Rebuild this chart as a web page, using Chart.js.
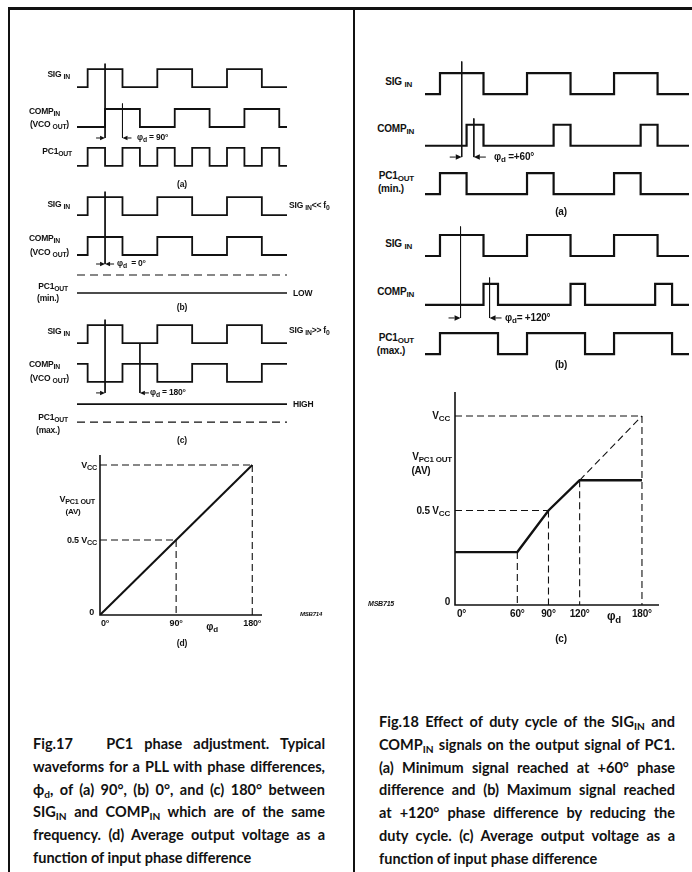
<!DOCTYPE html>
<html>
<head>
<meta charset="utf-8">
<script src="https://cdn.jsdelivr.net/npm/chart.js@4/dist/chart.umd.min.js"></script>
<style>
  html, body { margin: 0; padding: 0; background: #fff; }
  #page { position: relative; width: 692px; height: 872px; overflow: hidden; background: #fff; color: #111;
          font-family: "Liberation Sans", Arial, sans-serif; }
  .rule { position: absolute; background: #111; }
  canvas { position: absolute; }
  .lb { position: absolute; font-weight: bold; white-space: nowrap; line-height: 1; transform: translateY(-50%); letter-spacing: -0.2px; }
  .lb sub { font-size: 80%; vertical-align: baseline; position: relative; top: 0.3em; }
  .cap { position: absolute; font-family: Lato, "Open Sans", sans-serif; font-weight: 700; font-size: 14.5px; color: #111; }
  .cap div { height: 22.8px; line-height: 22.8px; text-align: justify; text-align-last: justify; white-space: nowrap; }
  .cap div.last { text-align-last: left; }
  .cap sub { font-size: 70%; vertical-align: baseline; position: relative; top: 0.3em; }
</style>
</head>
<body>
<div id="page">
  <div class="rule" style="left:8px;top:7px;width:684px;height:3px"></div>
  <div class="rule" style="left:8px;top:7px;width:2px;height:865px"></div>
  <div class="rule" style="left:353px;top:9px;width:2px;height:863px"></div>

  <canvas id="c17w"></canvas>
  <canvas id="c17d"></canvas>
  <canvas id="c18w"></canvas>
  <canvas id="c18c"></canvas>

  <div class="cap" style="left:33px;top:733px;width:292px">
    <div>Fig.17&nbsp;&nbsp; PC1 phase adjustment. Typical</div>
    <div>waveforms for a PLL with phase differences,</div>
    <div>ϕ<sub>d</sub>, of (a) 90°, (b) 0°, and (c) 180° between</div>
    <div>SIG<sub>IN</sub> and COMP<sub>IN</sub> which are of the same</div>
    <div>frequency. (d) Average output voltage as a</div>
    <div class="last">function of input phase difference</div>
  </div>
  <div class="cap" style="left:379px;top:711px;width:296px">
    <div>Fig.18 Effect of duty cycle of the SIG<sub>IN</sub> and</div>
    <div>COMP<sub>IN</sub> signals on the output signal of PC1.</div>
    <div>(a) Minimum signal reached at +60° phase</div>
    <div>difference and (b) Maximum signal reached</div>
    <div>at +120° phase difference by reducing the</div>
    <div>duty cycle. (c) Average output voltage as a</div>
    <div class="last">function of input phase difference</div>
  </div>
</div>

<script>
// ---------------- Fig.17 waveforms (edge positions in degrees of one SIG_IN period) ----------------
const f17Span     = [-55, 1030];
const f17SigEdges = [0, 180, 360, 540, 720, 900];
const f17CompA    = [90, 270, 450, 630, 810, 990];
const f17Pc1A     = [0, 90, 180, 270, 360, 450, 540, 630, 720, 810, 900, 990];
const f17CompB    = [0, 180, 360, 540, 720, 900];
const f17CompC    = [0, 180, 360, 540, 720, 900];   // starts high (180° shifted)
const f17MarkA    = [90, 180];
const f17MarkB    = [90, 90];
const f17MarkC    = [90, 270];

// Fig.17 (d) average output voltage vs phase
const f17dPhase  = [0, 180];
const f17dVout   = [0, 1];
const f17dGuides = [[90, 0.5], [180, 1]];
const f17dTicks  = [0, 90, 180];

// ---------------- Fig.18 waveforms ----------------
const f18Span     = [-62, 1030];
const f18SigEdges = [0, 180, 360, 540, 720, 900];
const f18CompA    = [110, 180, 470, 540, 830, 900];
const f18Pc1A     = [0, 110, 360, 470, 720, 830];
const f18CompB    = [180, 240, 540, 600, 890, 960];
const f18Pc1B     = [0, 240, 360, 600, 720, 960];
const f18MarkA    = [90, 140];
const f18MarkB    = [85, 205];

// Fig.18 (c) average output voltage vs phase
const f18cPhase  = [0, 60, 90, 120, 180];
const f18cVout   = [0.28, 0.28, 0.5, 0.66, 0.66];
const f18cIdeal  = [[120, 0.66], [180, 1]];
const f18cHGuides = [[90, 0.5], [180, 1]];
const f18cVGuides = [[60, 0.28], [90, 0.5], [120, 0.66], [180, 1]];
const f18cTicks  = [0, 60, 90, 120, 180];

const INK = '#111';
const PAD = 8;
const page = document.getElementById('page');

// step waveform from its edge list
function wave(edges, startHigh, span, base) {
  let lvl = startHigh ? 1 : 0;
  const pts = [{ x: span[0], y: base + lvl }];
  edges.forEach(t => {
    pts.push({ x: t, y: base + lvl });
    lvl = 1 - lvl;
    pts.push({ x: t, y: base + lvl });
  });
  pts.push({ x: span[1], y: base + lvl });
  return pts;
}

function ds(data, width, dash) {
  return { data, showLine: true, borderColor: INK, borderWidth: width, borderDash: dash || [],
           pointRadius: 0, fill: false, tension: 0, borderCapStyle: 'butt', borderJoinStyle: 'miter' };
}

function seg(x1, y1, x2, y2) { return [{ x: x1, y: y1 }, { x: x2, y: y2 }]; }

function drawArrow(ctx, from, to, py, head) {
  const dir = Math.sign(to - from);
  ctx.beginPath(); ctx.moveTo(from, py); ctx.lineTo(to - dir * head, py); ctx.stroke();
  ctx.beginPath();
  ctx.moveTo(to, py);
  ctx.lineTo(to - dir * head, py - head * 0.45);
  ctx.lineTo(to - dir * head, py + head * 0.45);
  ctx.closePath(); ctx.fill();
}

function arrowPlugin(specs, len, head) {
  return {
    id: 'phaseArrows',
    afterDatasetsDraw(chart) {
      const { ctx, scales: { x, y } } = chart;
      ctx.save();
      ctx.strokeStyle = INK; ctx.fillStyle = INK; ctx.lineWidth = 1;
      specs.forEach(s => {
        const py = y.getPixelForValue(s.y);
        const a = x.getPixelForValue(s.marks[0]);
        const b = x.getPixelForValue(s.marks[1]);
        drawArrow(ctx, a - len, a, py, head);
        drawArrow(ctx, b + len, b, py, head);
      });
      ctx.restore();
    }
  };
}

const axesPlugin = {
  id: 'axes',
  afterDatasetsDraw(chart) {
    const { ctx, chartArea: a } = chart;
    ctx.save();
    ctx.strokeStyle = INK; ctx.lineWidth = 1.6;
    ctx.beginPath();
    ctx.moveTo(a.left, a.top); ctx.lineTo(a.left, a.bottom); ctx.lineTo(a.right, a.bottom);
    ctx.stroke();
    ctx.restore();
  }
};

function plot(id, box, xr, yr, datasets, plugins) {
  const cv = document.getElementById(id);
  cv.width = box.w + 2 * PAD; cv.height = box.h + 2 * PAD;
  cv.style.left = (box.x - PAD) + 'px'; cv.style.top = (box.y - PAD) + 'px';
  const chart = new Chart(cv, {
    type: 'scatter',
    data: { datasets },
    options: {
      responsive: false, animation: false, devicePixelRatio: 1,
      layout: { padding: PAD },
      plugins: { legend: { display: false }, tooltip: { enabled: false } },
      scales: {
        x: { type: 'linear', display: false, min: xr[0], max: xr[1] },
        y: { type: 'linear', display: false, min: yr[0], max: yr[1] }
      }
    },
    plugins: plugins || []
  });
  chart.px = v => box.x - PAD + chart.scales.x.getPixelForValue(v);
  chart.py = v => box.y - PAD + chart.scales.y.getPixelForValue(v);
  return chart;
}

function lab(html, x, y, o) {
  o = o || {};
  const d = document.createElement('div');
  d.className = 'lb';
  d.innerHTML = html;
  d.style.fontSize = (o.fs || 8.5) + 'px';
  if (o.al === 'r') d.style.right = (692 - x) + 'px';
  else if (o.al === 'c') { d.style.left = x + 'px'; d.style.transform = 'translate(-50%,-50%)'; }
  else d.style.left = x + 'px';
  d.style.top = y + 'px';
  if (o.it) d.style.fontStyle = 'italic';
  page.appendChild(d);
}

// ================= Fig.17 (a)(b)(c) waveforms =================
// row baselines (low level) in amplitude units, 0 at the bottom of the block
const L = { sigA: 19.05, compA: 16.83, pc1A: 14.67, sigB: 11.94, compB: 9.72, pc1B: 7.61,
            sigC: 4.83, compC: 2.67, pc1C: 0.44, arrA: 16.22, arrB: 9.22, arrC: 2.06 };
const W17 = 1.8;
plot('c17w', { x: 77, y: 55, w: 210, h: 375 }, f17Span, [0, 20.83], [
  ds(wave(f17SigEdges, false, f17Span, L.sigA), W17),
  ds(wave(f17CompA, false, f17Span, L.compA), W17),
  ds(wave(f17Pc1A, false, f17Span, L.pc1A), W17),
  ds(wave(f17SigEdges, false, f17Span, L.sigB), W17),
  ds(wave(f17CompB, false, f17Span, L.compB), W17),
  ds(seg(f17Span[0], L.pc1B + 1, f17Span[1], L.pc1B + 1), 1.2, [8, 5]),
  ds(seg(f17Span[0], L.pc1B, f17Span[1], L.pc1B), 1.6),
  ds(wave(f17SigEdges, false, f17Span, L.sigC), W17),
  ds(wave(f17CompC, true, f17Span, L.compC), W17),
  ds(seg(f17Span[0], L.pc1C + 1, f17Span[1], L.pc1C + 1), 1.6),
  ds(seg(f17Span[0], L.pc1C, f17Span[1], L.pc1C), 1.2, [8, 5]),
  // phase reference markers
  ds(seg(f17MarkA[0], L.sigA + 1.3, f17MarkA[0], L.arrA), 1),
  ds(seg(f17MarkA[1], L.compA + 1.3, f17MarkA[1], L.arrA), 1),
  ds(seg(f17MarkB[0], L.sigB + 1.3, f17MarkB[0], L.arrB), 1),
  ds(seg(f17MarkC[0], L.sigC + 1.3, f17MarkC[0], L.arrC), 1),
  ds(seg(f17MarkC[1], L.sigC, f17MarkC[1], L.arrC), 1)
], [arrowPlugin([
  { y: L.arrA, marks: f17MarkA },
  { y: L.arrB, marks: f17MarkB },
  { y: L.arrC, marks: f17MarkC }
], 9, 5)]);

lab('SIG <sub>IN</sub>', 70, 74, { al: 'r' });
lab('COMP<sub>IN</sub>', 60, 111, { al: 'r' });
lab('(VCO <sub>OUT</sub>)', 69, 124, { al: 'r' });
lab('PC1<sub>OUT</sub>', 72, 151, { al: 'r' });
lab('(a)', 182, 184, { al: 'c' });
lab('φ<sub>d</sub> = 90°', 137, 137);

lab('SIG <sub>IN</sub>', 70, 204, { al: 'r' });
lab('SIG <sub>IN</sub>&lt;&lt; f<sub>0</sub>', 289, 205);
lab('COMP<sub>IN</sub>', 60, 238, { al: 'r' });
lab('(VCO <sub>OUT</sub>)', 69, 252, { al: 'r' });
lab('φ<sub>d</sub>&nbsp; = 0°', 117, 263);
lab('PC1<sub>OUT</sub>', 68, 286, { al: 'r' });
lab('(min.)', 48, 298, { al: 'c' });
lab('LOW', 293, 293);
lab('(b)', 182, 307, { al: 'c' });

lab('SIG <sub>IN</sub>', 70, 331, { al: 'r' });
lab('SIG <sub>IN</sub>&gt;&gt; f<sub>0</sub>', 289, 330);
lab('COMP<sub>IN</sub>', 60, 364, { al: 'r' });
lab('(VCO <sub>OUT</sub>)', 69, 378, { al: 'r' });
lab('φ<sub>d</sub> = 180°', 150, 392);
lab('HIGH', 293, 404);
lab('PC1<sub>OUT</sub>', 68, 417, { al: 'r' });
lab('(max.)', 48, 430, { al: 'c' });
lab('(c)', 182, 440, { al: 'c' });

// ================= Fig.17 (d) =================
const d17 = plot('c17d', { x: 100, y: 455, w: 162, h: 160 }, [0, 191.5], [0, 1.067], [
  ...f17dGuides.map(g => ds(seg(0, g[1], g[0], g[1]), 1.1, [7, 4])),
  ...f17dGuides.map(g => ds(seg(g[0], g[1], g[0], 0), 1.1, [7, 4])),
  ds(f17dPhase.map((p, i) => ({ x: p, y: f17dVout[i] })), 2)
], [axesPlugin]);

f17dTicks.forEach((t, i) => {
  lab(t + '°', i === 0 ? d17.px(t) + 1 : d17.px(t), d17.py(0) + 8, { fs: 9, al: i === 0 ? 'l' : 'c' });
});
lab('V<sub>CC</sub>', 97, d17.py(1), { fs: 9, al: 'r' });
lab('0.5 V<sub>CC</sub>', 97, d17.py(0.5), { fs: 9, al: 'r' });
lab('0', 94, d17.py(0) - 3, { fs: 9, al: 'r' });
lab('V<sub>PC1 OUT</sub>', 95, 499, { fs: 9, al: 'r' });
lab('(AV)', 73, 512, { fs: 8, al: 'c' });
lab('φ<sub>d</sub>', 212, 627, { fs: 10, al: 'c' });
lab('MSB714', 300, 614, { fs: 6, it: true });
lab('(d)', 182, 643, { al: 'c' });

// ================= Fig.18 (a)(b) waveforms =================
const R = { sigA: 12.9, compA: 10.44, pc1A: 8.14, sigB: 5.19, compB: 2.86, pc1B: 0.52, arrA: 9.9, arrB: 2.24 };
const W18 = 2.2;
plot('c18w', { x: 425, y: 55, w: 264, h: 310 }, f18Span, [0, 14.76], [
  ds(wave(f18SigEdges, false, f18Span, R.sigA), W18),
  ds(wave(f18CompA, false, f18Span, R.compA), W18),
  ds(wave(f18Pc1A, false, f18Span, R.pc1A), W18),
  ds(wave(f18SigEdges, false, f18Span, R.sigB), W18),
  ds(wave(f18CompB, false, f18Span, R.compB), W18),
  ds(wave(f18Pc1B, false, f18Span, R.pc1B), W18),
  ds(seg(f18MarkA[0], R.sigA + 1.55, f18MarkA[0], R.arrA), 1),
  ds(seg(f18MarkA[1], R.compA + 1.3, f18MarkA[1], R.arrA), 1),
  ds(seg(f18MarkB[0], R.sigB + 1.4, f18MarkB[0], R.arrB), 1),
  ds(seg(f18MarkB[1], R.compB + 1.3, f18MarkB[1], R.arrB), 1)
], [arrowPlugin([
  { y: R.arrA, marks: f18MarkA },
  { y: R.arrB, marks: f18MarkB }
], 12, 6)]);

lab('SIG <sub>IN</sub>', 412, 82, { fs: 10, al: 'r' });
lab('COMP<sub>IN</sub>', 414, 129, { fs: 10, al: 'r' });
lab('PC1<sub>OUT</sub>', 414, 176, { fs: 10, al: 'r' });
lab('(min.)', 391, 189, { fs: 10, al: 'c' });
lab('φ<sub>d</sub> =+60°', 494, 157, { fs: 10 });
lab('(a)', 561, 212, { fs: 10, al: 'c' });

lab('SIG <sub>IN</sub>', 412, 244, { fs: 10, al: 'r' });
lab('COMP<sub>IN</sub>', 414, 292, { fs: 10, al: 'r' });
lab('PC1<sub>OUT</sub>', 414, 338, { fs: 10, al: 'r' });
lab('(max.)', 391, 351, { fs: 10, al: 'c' });
lab('φ<sub>d</sub>= +120°', 505, 318, { fs: 10 });
lab('(b)', 561, 365, { fs: 10, al: 'c' });

// ================= Fig.18 (c) =================
const c18 = plot('c18c', { x: 455, y: 392, w: 204, h: 213 }, [0, 196.4], [0, 1.127], [
  ...f18cHGuides.map(g => ds(seg(0, g[1], g[0], g[1]), 1.1, [7, 4])),
  ...f18cVGuides.map(g => ds(seg(g[0], g[1], g[0], 0), 1.1, [7, 4])),
  ds(f18cIdeal.map(p => ({ x: p[0], y: p[1] })), 1.1, [7, 4]),
  ds(f18cPhase.map((p, i) => ({ x: p, y: f18cVout[i] })), 2.4)
], [axesPlugin]);

f18cTicks.forEach((t, i) => {
  lab(t + '°', i === 0 ? c18.px(t) + 2 : c18.px(t), c18.py(0) + 9, { fs: 10, al: i === 0 ? 'l' : 'c' });
});
lab('V<sub>CC</sub>', 450, c18.py(1), { fs: 10, al: 'r' });
lab('0.5 V<sub>CC</sub>', 450, c18.py(0.5), { fs: 10, al: 'r' });
lab('0', 450, c18.py(0) - 3, { fs: 10, al: 'r' });
lab('V<sub>PC1 OUT</sub>', 452, 457, { fs: 10, al: 'r' });
lab('(AV)', 421, 471, { fs: 10, al: 'c' });
lab('φ<sub>d</sub>', 614, 616, { fs: 12, al: 'c' });
lab('MSB715', 368, 603, { fs: 7, it: true });
lab('(c)', 561, 639, { fs: 10, al: 'c' });
</script>
</body>
</html>
